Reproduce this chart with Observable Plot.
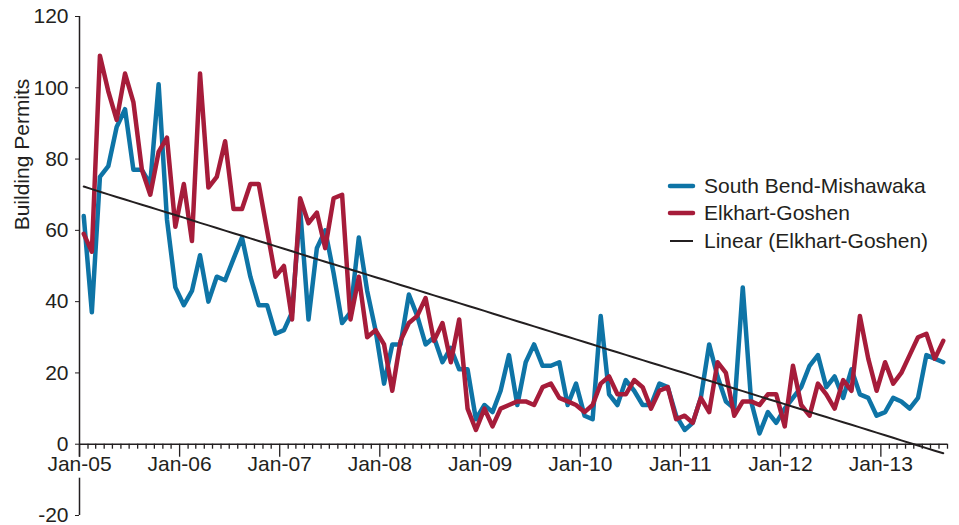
<!DOCTYPE html>
<html>
<head>
<meta charset="utf-8">
<script src="https://cdn.jsdelivr.net/npm/d3@7"></script>
<script src="https://cdn.jsdelivr.net/npm/@observablehq/plot@0.6"></script>
<style>
  body { margin: 0; background: #fff; }
  #chart { position: relative; width: 959px; height: 525px; font-family: "Liberation Sans", Arial, sans-serif; color: #231f20; }
  #chart svg { display: block; }
  #legend { position: absolute; left: 667px; top: 172px; font-size: 21px; }
  .row { display: flex; align-items: center; height: 27.5px; white-space: nowrap; }
  .row svg { margin-right: 8px; }
</style>
</head>
<body>
<div id="chart"><div id="legend"></div></div>
<script>
// Monthly building permits, Jan 2005 – Aug 2013
const startYear = 2005;
const startMonth = 0; // January
const southBend = [
  64, 37, 75, 78, 89, 94, 77, 77, 73, 101, 63, 44,
  39, 43, 53, 40, 47, 46, 52, 58, 47, 39, 39, 31,
  32, 37, 66, 35, 55, 60, 48, 34, 37, 58, 43, 32,
  17, 28, 28, 42, 36, 28, 30, 23, 27, 21, 21, 7,
  11, 9, 15, 25, 11, 23, 28, 22, 22, 23, 11, 17,
  8, 7, 36, 14, 11, 18, 15, 11, 11, 17, 16, 8,
  4, 6, 13, 28, 19, 12, 10, 44, 12, 3, 9, 6,
  10, 13, 16, 22, 25, 16, 19, 13, 21, 14, 13, 8,
  9, 13, 12, 10, 13, 25, 24, 23
];
const elkhart = [
  59, 54, 109, 99, 91, 104, 96, 77, 70, 82, 86, 61,
  73, 57, 104, 72, 75, 85, 66, 66, 73, 73, 60, 47,
  50, 35, 69, 62, 65, 55, 69, 70, 35, 47, 30, 32,
  28, 15, 29, 34, 36, 41, 29, 34, 23, 35, 10, 4,
  10, 5, 10, 11, 12, 12, 11, 16, 17, 13, 12, 11,
  9, 11, 17, 19, 14, 14, 18, 16, 10, 15, 16, 7,
  8, 6, 13, 9, 23, 20, 8, 12, 12, 11, 14, 14,
  5, 22, 11, 8, 17, 14, 10, 18, 15, 36, 24, 15,
  23, 17, 20, 25, 30, 31, 24, 29
];
const yTicks = [-20, 0, 20, 40, 60, 80, 100, 120];
const seriesNames = ["South Bend-Mishawaka", "Elkhart-Goshen", "Linear (Elkhart-Goshen)"];
const seriesColors = ["#0e74a6", "#a61c3a", "#231f20"];
const yLabel = "Building Permits";

const ink = "#231f20";
const n = southBend.length;
const start = new Date(Date.UTC(startYear, startMonth, 1));
const end = d3.utcMonth.offset(start, n);
const monthStarts = d3.range(n).map(i => d3.utcMonth.offset(start, i));
const mid = m => new Date((+m + +d3.utcMonth.offset(m, 1)) / 2);
const dates = monthStarts.map(mid);

const sbData = southBend.map((v, i) => ({date: dates[i], v}));
const egData = elkhart.map((v, i) => ({date: dates[i], v}));

// Linear trend (least squares on month index) of Elkhart-Goshen
const mi = d3.mean(elkhart, (_, i) => i);
const my = d3.mean(elkhart);
const slope = d3.sum(elkhart, (v, i) => (i - mi) * (v - my)) / d3.sum(elkhart, (_, i) => (i - mi) ** 2);
const icept = my - slope * mi;
const trendData = elkhart.map((_, i) => ({date: dates[i], v: icept + slope * i}));

const allTicks = d3.utcMonth.range(start, +end + 1);
const majorTicks = allTicks.filter(d => d.getUTCMonth() === 0);
const minorTicks = allTicks.filter(d => d.getUTCMonth() !== 0);
const labelYears = majorTicks.filter(d => d < end);
const fmt = d3.utcFormat("%b-%y");
const yMin = d3.min(yTicks), yMax = d3.max(yTicks);

const chart = Plot.plot({
  width: 959,
  height: 525,
  marginLeft: 79,
  marginRight: 12,
  marginTop: 16,
  marginBottom: 10,
  style: {fontFamily: '"Liberation Sans", Arial, sans-serif', fontSize: "21px", color: ink, background: "transparent"},
  x: {type: "utc", domain: [start, end], axis: null},
  y: {domain: [yMin, yMax], ticks: yTicks, tickSize: 4, tickPadding: 7, label: null, tickFormat: d => String(d)},
  marks: [
    // x axis line at zero
    Plot.ruleY([0], {stroke: ink, strokeWidth: 1.5}),
    Plot.ruleX(minorTicks, {x: d => d, y1: 0, y2: 0, insetBottom: -5, stroke: ink, strokeWidth: 1.3}),
    Plot.ruleX(majorTicks, {x: d => d, y1: 0, y2: 0, insetBottom: -13, stroke: ink, strokeWidth: 1.3}),
    // y axis line (broken around the category labels)
    Plot.ruleX([start], {x: d => d, y1: yMax, y2: 0, insetBottom: -13, stroke: ink, strokeWidth: 1.5}),
    Plot.ruleX([start], {x: d => d, y1: 0, y2: yMin, insetTop: 34, stroke: ink, strokeWidth: 1.5}),
    Plot.text(labelYears, {x: d => d, y: 0, text: d => fmt(d), dy: 12, lineAnchor: "top", fill: ink}),
    Plot.text([yLabel], {frameAnchor: "left", y: yMax / 2, text: d => d, rotate: -90, dx: -57, fill: ink}),
    Plot.line(sbData, {x: "date", y: "v", stroke: seriesColors[0], strokeWidth: 4.5, strokeLinejoin: "round", strokeLinecap: "round"}),
    Plot.line(egData, {x: "date", y: "v", stroke: seriesColors[1], strokeWidth: 4.5, strokeLinejoin: "round", strokeLinecap: "round"}),
    Plot.line(trendData, {x: "date", y: "v", stroke: seriesColors[2], strokeWidth: 2})
  ]
});
document.getElementById("chart").prepend(chart);

// Legend
const legend = document.getElementById("legend");
seriesNames.forEach((name, k) => {
  const row = document.createElement("div");
  row.className = "row";
  const w = k < 2 ? 4.5 : 2;
  row.innerHTML = `<svg width="29" height="10"><line x1="3" x2="26" y1="5" y2="5" stroke="${seriesColors[k]}" stroke-width="${w}" stroke-linecap="${k < 2 ? "round" : "butt"}"/></svg><span>${name}</span>`;
  legend.appendChild(row);
});
</script>
</body>
</html>
